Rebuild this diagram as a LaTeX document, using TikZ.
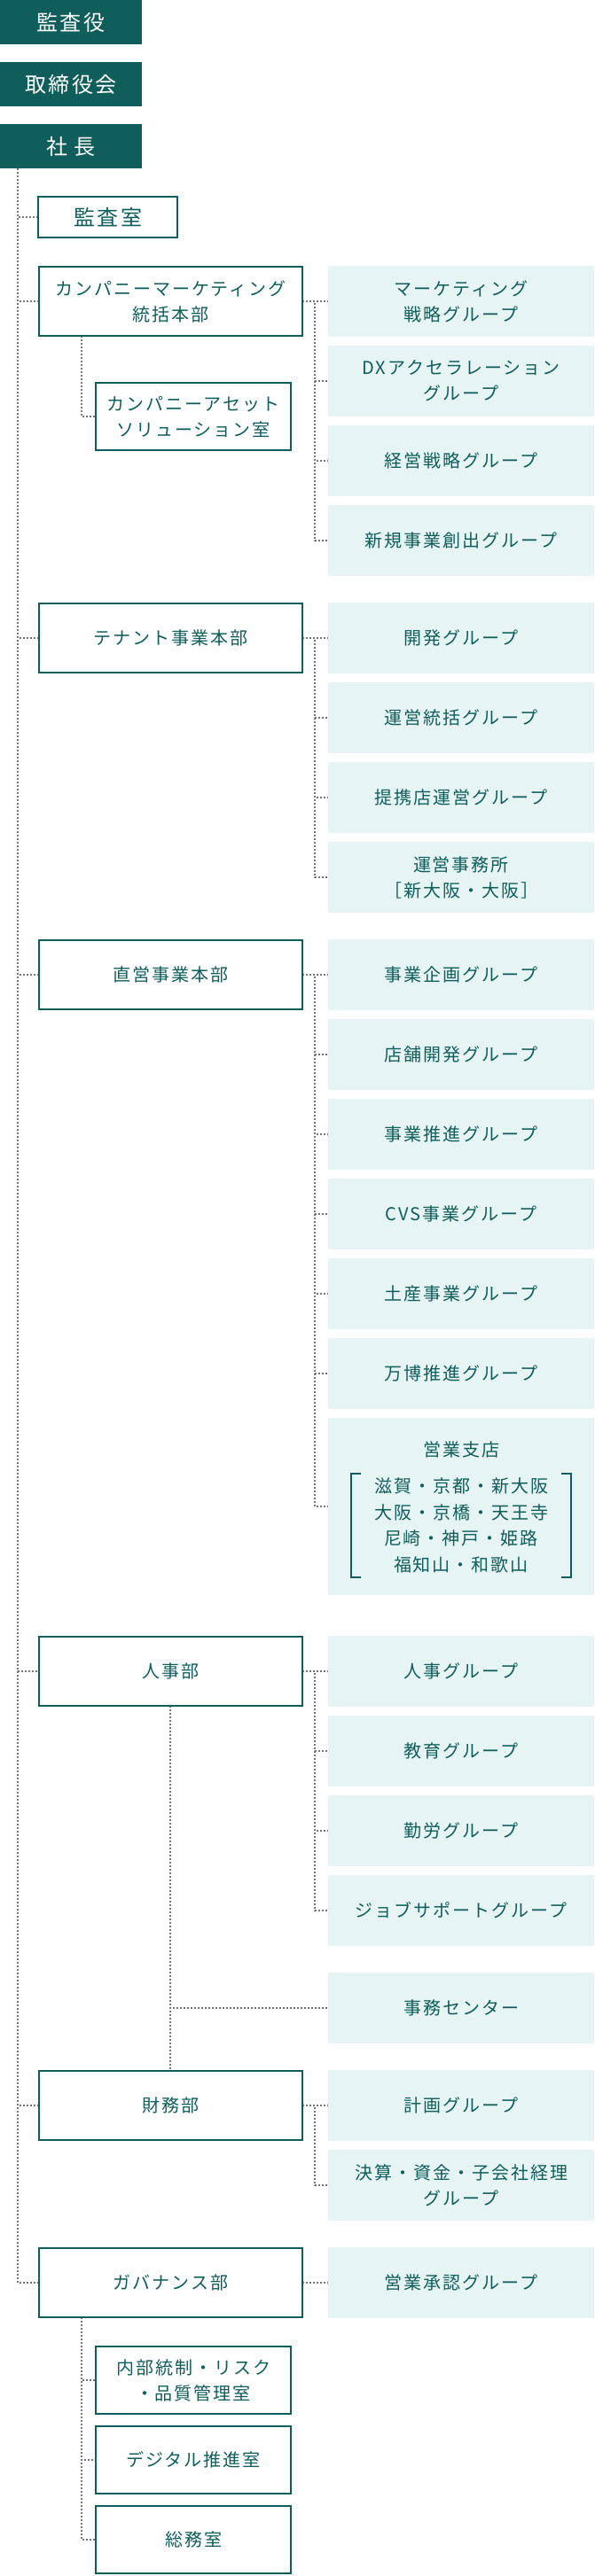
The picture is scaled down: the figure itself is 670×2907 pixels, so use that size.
\documentclass[tikz,border=0pt]{standalone}
\usepackage{fontspec}
\setmainfont{Noto Sans CJK JP}[LetterSpace=10]
\usetikzlibrary{backgrounds}
\definecolor{tealdark}{HTML}{105E5C}
\definecolor{lightgrp}{HTML}{E6F4F3}
\definecolor{dotgray}{HTML}{777777}
\begin{document}
\begin{tikzpicture}[x=1pt,y=-1pt,
  topbox/.style={fill=tealdark, text=white, minimum width=160pt, minimum height=50pt,
    inner sep=0pt, outer sep=0pt, font=\fontsize{24}{30}\selectfont},
  roombox/.style={draw=tealdark, line width=2pt, fill=white, text=tealdark, inner sep=0pt,
    outer sep=0pt, align=center, font=\fontsize{20}{29}\selectfont},
  deptbox/.style={roombox, minimum width=297.5pt, minimum height=77.5pt},
  subbox/.style={roombox, minimum width=220pt, minimum height=76.5pt},
  grpbox/.style={fill=lightgrp, text=tealdark, minimum width=300pt, minimum height=80pt,
    inner sep=0pt, outer sep=0pt, align=center, font=\fontsize{20}{29}\selectfont},
  plaintext/.style={text=tealdark, inner sep=0pt, align=center, font=\fontsize{20}{29.7}\selectfont},
  dotline/.style={draw=dotgray, line width=2pt, dash pattern=on 2pt off 2pt},
  bracketline/.style={draw=tealdark, line width=2pt}
]
\useasboundingbox (0,0) rectangle (670,2907);

% top level
\node[topbox] (audit) at (80,25) {監査役};
\node[topbox] (board) at (80,95) {取締役会};
\node[topbox] (pres) at (80,165) {社 長};

% 監査室
\node[roombox, minimum width=157pt, minimum height=46.6pt, font=\fontsize{24}{30}\selectfont] (kansa) at (121.8,245) {監査室};

% departments
\node[deptbox] (cmk) at (192.25,340) {カンパニーマーケティング\\統括本部};
\node[deptbox] (ten) at (192.25,720) {テナント事業本部};
\node[deptbox] (cho) at (192.25,1100) {直営事業本部};
\node[deptbox] (hr) at (192.25,1886) {人事部};
\node[deptbox] (fin) at (192.25,2376) {財務部};
\node[deptbox] (gov) at (192.25,2576) {ガバナンス部};

% sub rooms
\node[subbox] (asset) at (218,470) {カンパニーアセット\\ソリューション室};
\node[subbox] (gs1) at (218,2686) {内部統制・リスク\\・品質管理室};
\node[subbox] (gs2) at (218,2776) {デジタル推進室};
\node[subbox] (gs3) at (218,2866) {総務室};

% groups
\node[grpbox] (g11) at (520,340) {マーケティング\\戦略グループ};
\node[grpbox] (g12) at (520,430) {DXアクセラレーション\\グループ};
\node[grpbox] (g13) at (520,520) {経営戦略グループ};
\node[grpbox] (g14) at (520,610) {新規事業創出グループ};

\node[grpbox] (g21) at (520,720) {開発グループ};
\node[grpbox] (g22) at (520,810) {運営統括グループ};
\node[grpbox] (g23) at (520,900) {提携店運営グループ};
\node[grpbox] (g24) at (520,990) {運営事務所\\［新大阪・大阪］};

\node[grpbox] (g31) at (520,1100) {事業企画グループ};
\node[grpbox] (g32) at (520,1190) {店舗開発グループ};
\node[grpbox] (g33) at (520,1280) {事業推進グループ};
\node[grpbox] (g34) at (520,1370) {CVS事業グループ};
\node[grpbox] (g35) at (520,1460) {土産事業グループ};
\node[grpbox] (g36) at (520,1550) {万博推進グループ};
\node[grpbox, minimum height=200pt] (g37) at (520,1700) {};
\node[plaintext] (g37t) at (520,1636) {営業支店};
\node[plaintext] (g37l) at (520,1721.5) {滋賀・京都・新大阪\\大阪・京橋・天王寺\\尼崎・神戸・姫路\\福知山・和歌山};
\draw[bracketline] (407,1663) -- (396,1663) -- (396,1780) -- (407,1780);
\draw[bracketline] (633,1663) -- (644,1663) -- (644,1780) -- (633,1780);

\node[grpbox] (g41) at (520,1886) {人事グループ};
\node[grpbox] (g42) at (520,1976) {教育グループ};
\node[grpbox] (g43) at (520,2066) {勤労グループ};
\node[grpbox] (g44) at (520,2156) {ジョブサポートグループ};
\node[grpbox] (jimu) at (520,2266) {事務センター};

\node[grpbox] (g51) at (520,2376) {計画グループ};
\node[grpbox] (g52) at (520,2466) {決算・資金・子会社経理\\グループ};

\node[grpbox] (g61) at (520,2576) {営業承認グループ};

\begin{scope}[on background layer]
% trunk
\foreach \d in {kansa,cmk,ten,cho,hr,fin,gov}
  \draw[dotline] ([xshift=20pt]pres.south west) |- (\d.west);
% department to groups
\draw[dotline] (cmk.east) -- (g11.west);
\foreach \g in {g12,g13,g14} \draw[dotline] (cmk.east) -- ++(14,0) |- (\g.west);
\draw[dotline] (ten.east) -- (g21.west);
\foreach \g in {g22,g23,g24} \draw[dotline] (ten.east) -- ++(14,0) |- (\g.west);
\draw[dotline] (cho.east) -- (g31.west);
\foreach \g in {g32,g33,g34,g35,g36,g37} \draw[dotline] (cho.east) -- ++(14,0) |- (\g.west);
\draw[dotline] (hr.east) -- (g41.west);
\foreach \g in {g42,g43,g44} \draw[dotline] (hr.east) -- ++(14,0) |- (\g.west);
\draw[dotline] (hr.south) -- (fin.north);
\draw[dotline] (hr.south) |- (jimu.west);
\draw[dotline] (fin.east) -- (g51.west);
\draw[dotline] (fin.east) -- ++(14,0) |- (g52.west);
\draw[dotline] (gov.east) -- (g61.west);
% sub rooms
\draw[dotline] ([xshift=48.5pt]cmk.south west) |- (asset.west);
\foreach \s in {gs1,gs2,gs3} \draw[dotline] ([xshift=48.5pt]gov.south west) |- (\s.west);
\end{scope}
\end{tikzpicture}
\end{document}
